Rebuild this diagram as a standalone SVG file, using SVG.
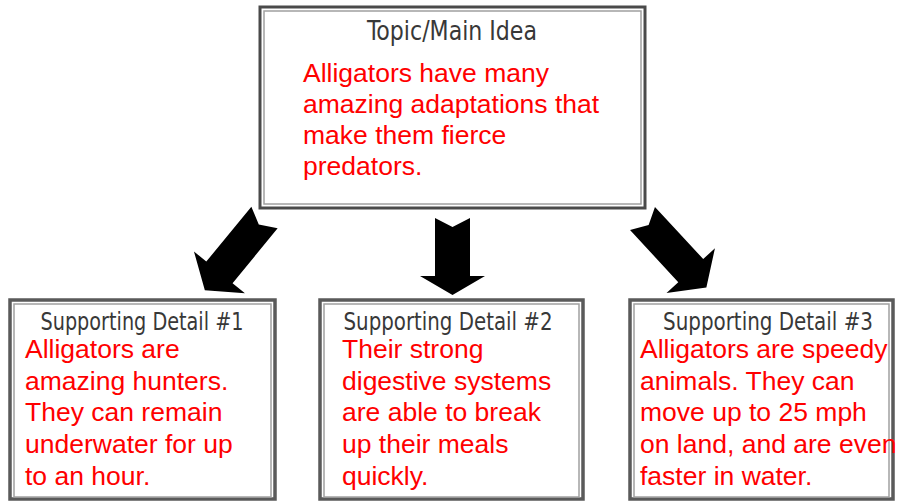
<svg xmlns="http://www.w3.org/2000/svg" width="898" height="502" viewBox="0 0 898 502">
  <style>
    .outer { fill: #ffffff; stroke: #4a4a4a; stroke-width: 3; }
    .inner { fill: none; stroke: #a0a0a0; stroke-width: 1.5; }
    .outer2 { fill: #ffffff; stroke: #5a5a5a; stroke-width: 3.5; }
    .title { font-family: "DejaVu Sans Condensed", "DejaVu Sans", sans-serif; fill: #383838; text-anchor: middle; }
    .body { font-family: "Liberation Sans", Arial, sans-serif; font-size: 26.5px; fill: #ff0000; }
    .arrow { fill: #000000; }
  </style>
  <defs>
    <path id="arrowDiag" d="M -17,0 L 0,9 L 17,0 L 17,71 L 33,71 L 0,94 L -33,71 L -17,71 Z"/>
  </defs>
  <rect width="898" height="502" fill="#ffffff"/>

  <g id="connectors">
    <use href="#arrowDiag" class="arrow" transform="translate(264.5,217.5) rotate(39.4)"/>
    <path class="arrow" d="M 435,218 L 452.5,227 L 470,218 L 470,276 L 485,276 L 452.5,295 L 420,276 L 435,276 Z"/>
    <use href="#arrowDiag" class="arrow" transform="translate(642.5,218.5) rotate(-42.8)"/>
  </g>

  <g id="topic">
    <rect class="outer" x="260" y="7" width="385" height="201"/>
    <rect class="inner" x="264" y="11" width="377" height="193"/>
    <text class="title" x="452" y="40" font-size="26" textLength="170" lengthAdjust="spacingAndGlyphs">Topic/Main Idea</text>
    <text class="body" x="303" y="82">Alligators have many</text>
    <text class="body" x="303" y="113">amazing adaptations that</text>
    <text class="body" x="303" y="144">make them fierce</text>
    <text class="body" x="303" y="175">predators.</text>
  </g>

  <g id="detail1">
    <rect class="outer2" x="10" y="300" width="265" height="199"/>
    <rect class="inner" x="14" y="304" width="257" height="193"/>
    <text class="title" x="142" y="330" font-size="24" textLength="203" lengthAdjust="spacingAndGlyphs">Supporting Detail #1</text>
    <text class="body" x="25" y="358">Alligators are</text>
    <text class="body" x="25" y="390">amazing hunters.</text>
    <text class="body" x="25" y="421">They can remain</text>
    <text class="body" x="25" y="453">underwater for up</text>
    <text class="body" x="25" y="485">to an hour.</text>
  </g>

  <g id="detail2">
    <rect class="outer2" x="320" y="300" width="263" height="199"/>
    <rect class="inner" x="324" y="304" width="255" height="193"/>
    <text class="title" x="448" y="330" font-size="24" textLength="209" lengthAdjust="spacingAndGlyphs">Supporting Detail #2</text>
    <text class="body" x="342" y="358">Their strong</text>
    <text class="body" x="342" y="390">digestive systems</text>
    <text class="body" x="342" y="421">are able to break</text>
    <text class="body" x="342" y="453">up their meals</text>
    <text class="body" x="342" y="485">quickly.</text>
  </g>

  <g id="detail3">
    <rect class="outer2" x="630" y="300" width="263" height="199"/>
    <rect class="inner" x="634" y="304" width="255" height="193"/>
    <text class="title" x="768" y="330" font-size="24" textLength="210" lengthAdjust="spacingAndGlyphs">Supporting Detail #3</text>
    <text class="body" x="640" y="358">Alligators are speedy</text>
    <text class="body" x="640" y="390">animals. They can</text>
    <text class="body" x="640" y="421">move up to 25 mph</text>
    <text class="body" x="640" y="453">on land, and are even</text>
    <text class="body" x="640" y="485">faster in water.</text>
  </g>
</svg>
